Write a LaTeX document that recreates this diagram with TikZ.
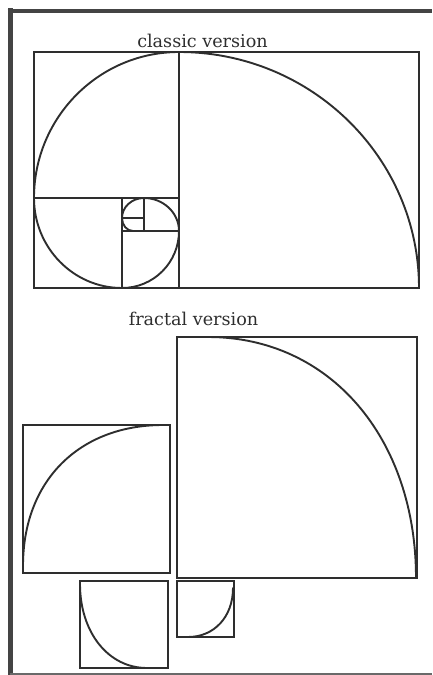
\documentclass[tikz,border=0pt]{standalone}
\usepackage{fontspec}
\setmainfont{DejaVu Serif}
\definecolor{ink}{HTML}{2E2E2E}
\definecolor{frame}{HTML}{444444}
\begin{document}
\begin{tikzpicture}[x=1pt,y=-1pt,
  title/.style={anchor=base,inner sep=0pt,text=ink,font=\fontsize{17.6}{20}\selectfont},
  box/.style={draw=ink,line width=2pt},
  thin/.style={draw=ink,line width=1.3pt},
  curve/.style={draw=ink,line width=1.9pt,line cap=round},
  border/.style={draw=frame,line cap=butt}]
\useasboundingbox (0,0) rectangle (432,675);
% frame
\draw[border,line width=5pt] (10,675) -- (10,8);
\draw[border,line width=4pt] (7.5,10.5) -- (432,10.5);
\draw[border,line width=2.5pt,draw=frame!80] (10,673.8) -- (432,673.8);
% titles
\node[title] (t1) at (202.5,47) {classic version};
\node[title] (t2) at (193.5,325) {fractal version};
% classic version
\draw[thin] (179,52) -- (179,288);
\draw[thin] (34,198) -- (179,198);
\draw[thin] (122,198) -- (122,288);
\draw[thin] (122,231) -- (179,231);
\draw[thin] (144,198) -- (144,231);
\draw[thin] (122,218) -- (144,218);
\draw[box,line width=2.4pt] (34,52) rectangle (419,288);
\draw[curve] (419,288) .. controls (419,157.7) and (311.5,52) .. (179,52)
  .. controls (98.9,52) and (34,117.4) .. (34,198)
  .. controls (34,247.7) and (73.4,288) .. (122,288)
  .. controls (153.5,288) and (179,262.5) .. (179,231)
  .. controls (179,212.8) and (163.3,198) .. (144,198)
  .. controls (131.8,198) and (122,207) .. (122,218)
  .. controls (122,225.2) and (126.9,231) .. (133,231);
% fractal version
\draw[box] (177,337) rectangle (417,578);
\draw[curve] (208,337) .. controls (330,337) and (416,438) .. (416,578);
\draw[box] (23,425) rectangle (170,573);
\draw[curve] (23,566) .. controls (23,480) and (80,425) .. (163,425);
\draw[box] (80,581) rectangle (168,668);
\draw[curve] (80,584) .. controls (80,632) and (108,668) .. (147,668);
\draw[box] (177,581) rectangle (234,637);
\draw[curve] (188,637) .. controls (214,637) and (233,617) .. (233,588);
\end{tikzpicture}
\end{document}
